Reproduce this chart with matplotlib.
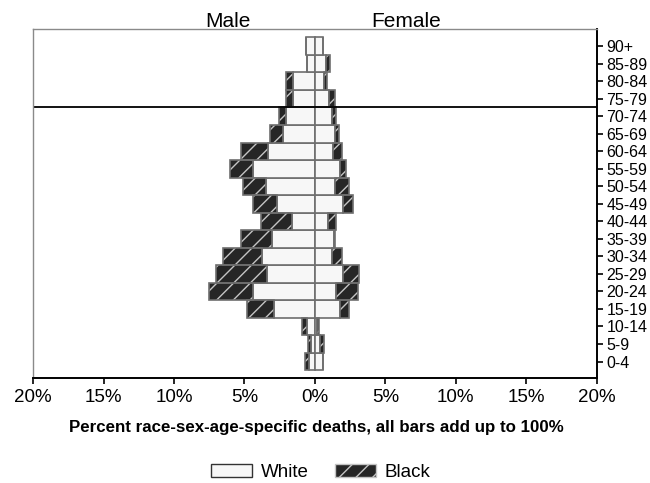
import numpy as np
import matplotlib
matplotlib.use("Agg")
import matplotlib.pyplot as plt
from matplotlib.patches import Patch

plt.rcParams["font.family"] = ["Liberation Sans", "DejaVu Sans"]
plt.rcParams["hatch.linewidth"] = 1.0

ages = ["0-4", "5-9", "10-14", "15-19", "20-24", "25-29", "30-34", "35-39", "40-44",
        "45-49", "50-54", "55-59", "60-64", "65-69", "70-74", "75-79", "80-84", "85-89", "90+"]

# percent of all deaths
male_white = [0.45, 0.25, 0.53, 2.9, 4.4, 3.41, 3.77, 3.06, 1.65, 2.66,
              3.46, 4.4, 3.3, 2.24, 2.05, 1.58, 1.53, 0.54, 0.64]
male_black = [0.25, 0.22, 0.39, 1.93, 3.14, 3.58, 2.76, 2.19, 2.17, 1.7,
              1.65, 1.6, 1.95, 0.94, 0.52, 0.47, 0.52, 0.0, 0.0]
female_white = [0.58, 0.35, 0.14, 1.77, 1.53, 2.0, 1.18, 1.34, 0.94, 1.96,
                1.41, 1.77, 1.3, 1.41, 1.2, 1.01, 0.64, 0.82, 0.54]
female_black = [0.0, 0.28, 0.14, 0.66, 1.53, 1.13, 0.71, 0.1, 0.59, 0.75,
                1.01, 0.47, 0.59, 0.31, 0.28, 0.4, 0.24, 0.23, 0.0]

xticks = [-20, -15, -10, -5, 0, 5, 10, 15, 20]

WHITE_FC, EDGE = "#f7f7f7", "#6e6e6e"
BLACK_FC, HATCH_C = "#262626", "#c4c4c4"

fig = plt.figure(figsize=(6.5, 4.83), dpi=100)
ax = fig.add_axes([0.051, 0.217, 0.867, 0.7223])

y = np.arange(len(ages))
mw, mb = -np.array(male_white), -np.array(male_black)
fw, fb = np.array(female_white), np.array(female_black)

for w, b in ((mw, mb), (fw, fb)):
    ax.barh(y, w, height=1.0, color=WHITE_FC, edgecolor=EDGE, linewidth=1.2)
    # hatch first (its colour comes from edgecolor), then an outline on top
    ax.barh(y, b, left=w, height=1.0, color=BLACK_FC, edgecolor=HATCH_C, hatch="//", linewidth=0)
    ax.barh(y, b, left=w, height=1.0, fill=False, edgecolor=EDGE, linewidth=1.2)

ax.axhline(14.5, color="black", lw=1.3)

ax.set_xlim(-20, 20)
ax.set_ylim(-0.95, 18.96)
ax.set_xticks(xticks)
ax.set_xticklabels([f"{abs(t)}%" for t in xticks], fontsize=13.5)
ax.set_yticks(y)
ax.set_yticklabels(ages, fontsize=11.5)
ax.yaxis.tick_right()
ax.tick_params(axis="x", length=4, width=1.2, pad=4)
ax.tick_params(axis="y", length=4, width=1.2, pad=3)

for s in ("left", "top"):
    ax.spines[s].set_color("#8a8a8a")
    ax.spines[s].set_linewidth(1.0)
for s in ("right", "bottom"):
    ax.spines[s].set_color("black")
    ax.spines[s].set_linewidth(1.4)

fig.text(0.486, 0.114, "Percent race-sex-age-specific deaths, all bars add up to 100%",
         ha="center", va="center", fontsize=12.2, fontweight="bold")

ax.text(-6.18, 1.006, "Male", transform=ax.get_xaxis_transform(),
        ha="center", va="baseline", fontsize=15)
ax.text(6.5, 1.006, "Female", transform=ax.get_xaxis_transform(),
        ha="center", va="baseline", fontsize=15)

handles = [Patch(facecolor=WHITE_FC, edgecolor="#333333", label="White"),
           Patch(facecolor=BLACK_FC, edgecolor=HATCH_C, hatch="//", label="Black")]
fig.legend(handles=handles, loc="center", bbox_to_anchor=(0.493, 0.022), ncol=2,
           frameon=False, fontsize=13.5, handlelength=2.2, handleheight=0.7,
           columnspacing=1.4, handletextpad=0.45, borderpad=0)

fig.savefig("out.png", dpi=100)
